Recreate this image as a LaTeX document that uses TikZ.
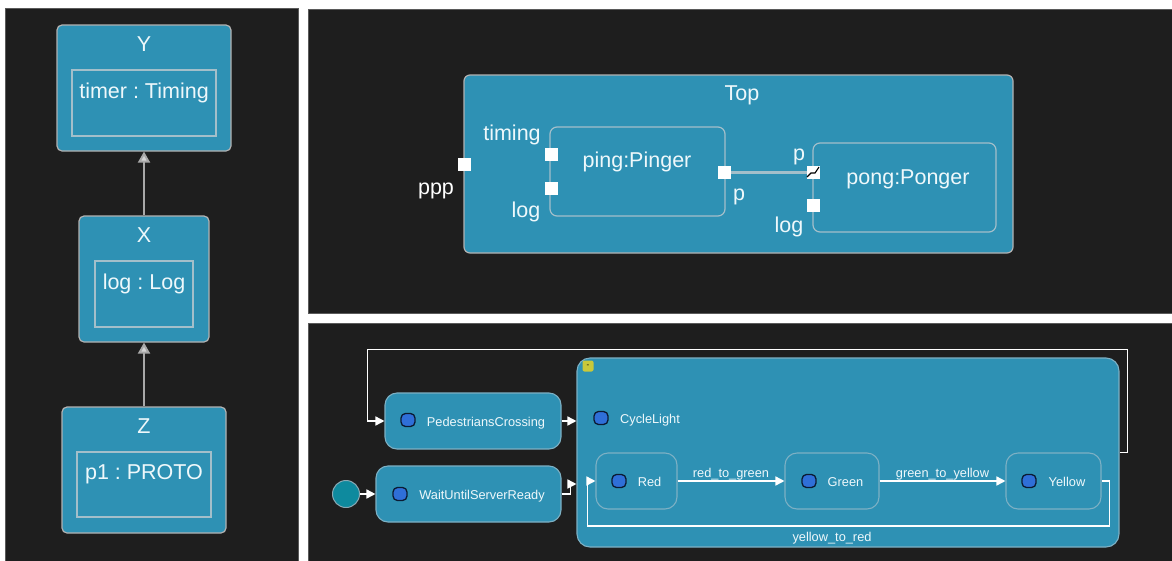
\documentclass[tikz,border=0pt]{standalone}
\usepackage{fontspec}
\setmainfont{Liberation Sans}
\usetikzlibrary{arrows.meta, positioning, calc}
\definecolor{ideback}{HTML}{1E1E1E}
\definecolor{ideedge}{HTML}{5A5A5A}
\definecolor{ideblue}{HTML}{2E91B4}
\definecolor{idegray}{HTML}{B2B2B2}
\definecolor{idepart}{HTML}{A3BFCA}
\definecolor{idestate}{HTML}{7DB0C4}
\definecolor{idetext}{HTML}{EEF8FB}
\definecolor{idedot}{HTML}{2F6FD8}
\definecolor{idedark}{HTML}{0B1B33}
\definecolor{idemark}{HTML}{C9C93A}
\definecolor{ideinit}{HTML}{0E8A9E}
\definecolor{idearrow}{HTML}{A8A8A8}
\definecolor{idetip}{HTML}{D4D4D4}
\frenchspacing

\begin{document}
\begin{tikzpicture}[x=1pt, y=-1pt,
    panel/.style={fill=ideback, draw=ideedge, line width=0.8pt},
    comp/.style={draw=idegray, fill=ideblue, line width=1.2pt, rounded corners=5pt, inner sep=0pt},
    part/.style={draw=idepart, line width=1.2pt, inner sep=0pt},
    inst/.style={draw=idepart, fill=ideblue, line width=1.2pt, rounded corners=7pt, inner sep=0pt},
    port/.style={fill=white, minimum size=13pt, inner sep=0pt},
    big/.style={text=idetext, font=\fontsize{21.5}{25}\selectfont, inner sep=0pt, text height=0.72em, text depth=0pt, yshift=-4pt},
    plbl/.style={text=white, font=\fontsize{21.5}{25}\selectfont, inner sep=0pt, text height=0.72em, text depth=0pt, yshift=-4pt},
    small/.style={text=idetext, font=\fontsize{12.8}{15}\selectfont, inner sep=0pt, text height=0.72em, text depth=0pt, yshift=-2pt},
    state/.style={draw=idestate, fill=ideblue, line width=1.1pt, rounded corners=12pt, inner sep=0pt},
    dot/.style={draw=idedark, fill=idedot, line width=1.3pt, rounded corners=4.5pt, minimum width=14pt, minimum height=13pt, inner sep=0pt},
    inherit/.style={draw=idearrow, line width=2pt, -{Triangle[length=11pt, width=12pt, fill=idetip]}},
    trans/.style={draw=white, line width=1.6pt, -{Triangle[length=9pt, width=9pt]}},
    link/.style={draw=idepart, line width=3pt}]

    \useasboundingbox (0,0) rectangle (1172,560);
    \fill[white] (0,0) rectangle (1172,560);
    \path[panel] (5,8) rectangle (298,561);
    \path[panel] (308,9) rectangle (1173,313);
    \path[panel] (308,323) rectangle (1173,561);

    \node[comp, minimum width=174pt, minimum height=126pt] (Y) at (144,88) {};
    \node[comp, minimum width=130pt, minimum height=126pt] (X) at (144,279) {};
    \node[comp, minimum width=164pt, minimum height=126pt] (Z) at (144,470) {};
    \node[part, minimum width=144pt, minimum height=66pt] (YIn) at (144,103) {};
    \node[part, minimum width=98pt, minimum height=66pt] (XIn) at (144,294) {};
    \node[part, minimum width=134pt, minimum height=65pt] (ZIn) at (144,484.5) {};

    \node[big] (YT) at (144,44) {Y};
    \node[big] (XT) at (144,235) {X};
    \node[big] (ZT) at (144,426) {Z};
    \node[big] (YInT) at (144,91) {timer : Timing};
    \node[big] (XInT) at (144,282) {log : Log};
    \node[big] (ZInT) at (144,472) {p1 : PROTO};

    \draw[inherit] (X) -- (Y);
    \draw[inherit] (Z) -- (X);

    \node[comp, rounded corners=6pt, minimum width=549pt, minimum height=178pt] (Top) at (738.5,164) {};
    \node[inst, minimum width=175pt, minimum height=89pt] (Ping) at (637.5,171.5) {};
    \node[inst, minimum width=183pt, minimum height=89pt] (Pong) at (904.5,187.5) {};
    \node[big] (TopT) at (742,93) {Top};
    \node[big] (PingT) at (637,160) {ping:Pinger};
    \node[big] (PongT) at (908,177) {pong:Ponger};

    \draw[link] (724,172) -- (813,172);
    \node[port] (PPP) at (464,164) {};
    \node[port] (PTim) at (551,154) {};
    \node[port] (PLog) at (551,188) {};
    \node[port] (PP) at (724,172) {};
    \node[port] (QP) at (813,172) {};
    \node[port] (QLog) at (813,205) {};
    \draw[line width=1.1pt] ([shift={(-6,5)}]QP.center) -- ([shift={(-2,1)}]QP.center)
        -- ([shift={(2,1)}]QP.center) -- ([shift={(6,-5)}]QP.center);

    \node[plbl] (PPPl) at (436,187) {ppp};
    \node[big] (PTiml) at (512,133) {timing};
    \node[big] (PLogl) at (526,210) {log};
    \node[big] (PPl) at (739,193) {p};
    \node[big] (QPl) at (799,153) {p};
    \node[big] (QLogl) at (789,225) {log};

    \node[state, rounded corners=13pt, minimum width=542pt, minimum height=189pt] (CL) at (848,452.5) {};
    \node[state, minimum width=176pt, minimum height=56pt] (PC) at (473,421) {};
    \node[state, minimum width=185pt, minimum height=56pt] (WU) at (468.5,494) {};
    \node[circle, draw=idegray!70!ideblue, fill=ideinit, line width=1pt, minimum size=27pt, inner sep=0pt] (Init) at (346,494) {};
    \node[state, minimum width=81pt, minimum height=56pt] (Red) at (636.5,481) {};
    \node[state, minimum width=94pt, minimum height=56pt] (Green) at (832,481) {};
    \node[state, minimum width=95pt, minimum height=56pt] (Yellow) at (1053.5,481) {};
    \node[fill=idemark, rounded corners=2pt, minimum size=11pt, inner sep=0pt, font=\fontsize{8}{8}\selectfont] (Mark) at (588,366) {-};

    \node[dot] (PCd) at (408,420) {};
    \node[dot] (WUd) at (400,494) {};
    \node[dot] (CLd) at (601,418) {};
    \node[dot] (Redd) at (619,481) {};
    \node[dot] (Greend) at (809,481) {};
    \node[dot] (Yellowd) at (1029,481) {};

    \node[small] (PCT) at (486,421) {PedestriansCrossing};
    \node[small] (WUT) at (482,494) {WaitUntilServerReady};
    \node[small] (CLT) at (650,418) {CycleLight};
    \node[small] (RedT) at (649.5,481) {Red};
    \node[small] (GreenT) at (845.5,481) {Green};
    \node[small] (YellowT) at (1067,481) {Yellow};

    \draw[trans] (Init) -- (WU.west);
    \draw[trans] (PC.east) -- (PC.east -| CL.west);
    \draw[trans] (WU.east) -- ++(9,0) -- ++(0,-10) -- ($(WU.east -| CL.west)+(0,-10)$);
    \draw[trans] (CL.east) -- ++(8,0) -- ++(0,-103) -| ($(PC.west)+(-17,0)$) -- (PC.west);
    \draw[trans] (Red.east) -- node[small, above=5pt] (RGl) {red\_to\_green} (Green.west);
    \draw[trans] (Green.east) -- node[small, above=5pt] (GYl) {green\_to\_yellow} (Yellow.west);
    \draw[trans] (Yellow.east) -- ++(8,0) -- ++(0,45) -| ($(Red.west)+(-8,0)$) -- (Red.west);
    \node[small] (YRl) at (832,536) {yellow\_to\_red};
\end{tikzpicture}
\end{document}
